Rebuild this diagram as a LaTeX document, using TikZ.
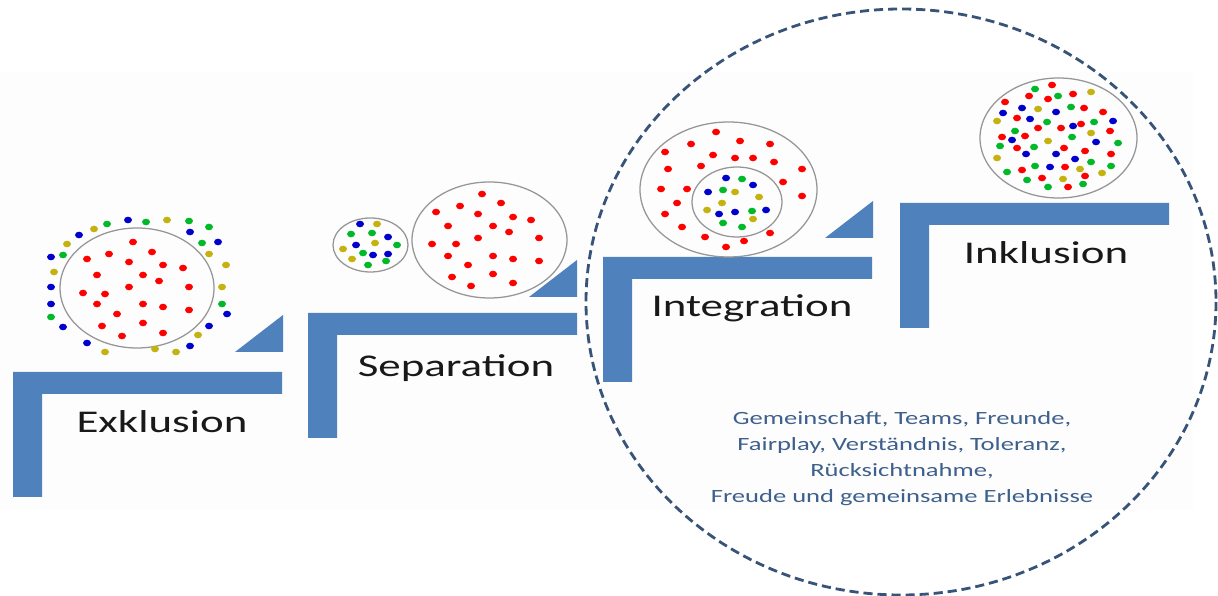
\documentclass[tikz,border=0pt]{standalone}
\usepackage{fontspec}
\setmainfont{Carlito}
\usepackage{tikz}

\definecolor{stepblue}{RGB}{79,129,189}
\definecolor{dotred}{RGB}{255,0,0}
\definecolor{dotgreen}{RGB}{0,185,40}
\definecolor{dotblue}{RGB}{0,0,205}
\definecolor{dotyellow}{RGB}{195,178,15}
\definecolor{ringgray}{RGB}{150,150,150}
\definecolor{navy}{RGB}{56,83,120}
\definecolor{textblue}{RGB}{62,96,140}

\tikzset{
  stage/.style={font=\fontsize{22.5}{26}\selectfont, text=black!90, xscale=1.42, inner sep=0pt},
  ring/.style={draw=ringgray, line width=0.9pt},
}

\begin{document}
\begin{tikzpicture}[x=0.025cm, y=-0.025cm]
\useasboundingbox (0,0) rectangle (1218,596);

% Pasted picture area
\fill[black!0.6] (0,72) rectangle (1193,510);

% Stairs
\foreach \x/\y in {13/372, 308/313, 603/257, 900/203}{
  \fill[stepblue] (\x,\y) -- ++(269,0) -- ++(0,22) -- ++(-240,0) -- ++(0,103) -- ++(-29,0) -- cycle;
}
\foreach \x/\y in {283/352, 577/297, 873/238}{
  \fill[stepblue] (\x,\y) -- ++(-48,0) -- ++(48,-37) -- cycle;
}

% Stage labels
\node[stage] (excl) at (162,422) {Exklusion};
\node[stage] (sep) at (456,368) {Separation};
\node[stage] (integ) at (752,308) {Integration};
\node[stage] (inkl) at (1046,253) {Inklusion};

% Exklusion: group inside, the others around it
\draw[ring] (137,288) ellipse [x radius=77, y radius=60];
\foreach \x/\y in {133/242,109/254,152/252,87/259,129/262,163/265,183/268,97/275,143/275,159/281,
                   129/287,189/287,83/293,105/294,97/304,143/304,163/307,189/310,117/314,102/326,
                   143/323,122/336,163/333}
  \fill[dotred] (\x,\y) ellipse [x radius=4, y radius=3.3];
\foreach \x/\y in {128/220,190/232,218/242,79/235,51/257,51/287,51/304,227/314,63/327,209/326,87/343,190/346}
  \fill[dotblue] (\x,\y) ellipse [x radius=4, y radius=3.3];
\foreach \x/\y in {107/224,146/222,189/221,209/227,202/243,63/255,222/304,51/317}
  \fill[dotgreen] (\x,\y) ellipse [x radius=4, y radius=3.3];
\foreach \x/\y in {94/229,167/220,67/244,209/254,226/265,54/272,222/287,198/335,105/352,155/349,176/352}
  \fill[dotyellow] (\x,\y) ellipse [x radius=4, y radius=3.3];

% Separation: two groups side by side
\draw[ring] (370.5,245) ellipse [x radius=37.5, y radius=27];
\draw[ring] (489.5,240) ellipse [x radius=77.5, y radius=58];
\foreach \x/\y in {360/224,388/237,356/245,373/255,388/254}
  \fill[dotblue] (\x,\y) ellipse [x radius=4, y radius=3.3];
\foreach \x/\y in {351/234,372/233,397/245,363/253,386/261,368/265}
  \fill[dotgreen] (\x,\y) ellipse [x radius=4, y radius=3.3];
\foreach \x/\y in {377/224,375/243,343/249,352/259}
  \fill[dotyellow] (\x,\y) ellipse [x radius=4, y radius=3.3];
\foreach \x/\y in {482/194,460/206,501/203,436/212,478/214,513/217,531/220,448/226,493/226,509/232,
                   478/238,539/238,432/244,456/244,448/256,493/256,513/259,539/261,468/265,493/274,
                   452/277,513/283,471/286}
  \fill[dotred] (\x,\y) ellipse [x radius=4, y radius=3.3];

% Integration: small group within the big one
\draw[ring] (728.5,189.5) ellipse [x radius=88.5, y radius=67.5];
\draw[ring] (737,202) ellipse [x radius=45, y radius=35];
\foreach \x/\y in {716/132,691/144,740/141,770/144,665/152,713/155,735/158,753/158,774/162,668/169,
                   701/166,802/169,783/182,661/189,687/189,677/203,802/196,665/214,682/227,770/233,
                   705/237,744/241,726/247}
  \fill[dotred] (\x,\y) ellipse [x radius=4, y radius=3.3];
\foreach \x/\y in {726/178,753/185,708/192,719/214,735/212,766/210}
  \fill[dotblue] (\x,\y) ellipse [x radius=4, y radius=3.3];
\foreach \x/\y in {742/179,723/190,752/211,723/223,742/227}
  \fill[dotgreen] (\x,\y) ellipse [x radius=4, y radius=3.3];
\foreach \x/\y in {735/192,759/197,722/203,707/210,753/219}
  \fill[dotyellow] (\x,\y) ellipse [x radius=4, y radius=3.3];

% Inklusion: everyone mixed
\draw[ring] (1058.5,138) ellipse [x radius=78.5, y radius=60];
\foreach \x/\y in {1052/85,1029/96,1048/99,1073/94,1005/102,1084/108,1103/112,1017/118,1081/124,1038/128,
                   1061/128,1110/131,1002/137,1025/136,1017/148,1064/148,1085/151,1111/154,1065/167,1022/170,
                   1085/176,1042/178,1068/187}
  \fill[dotred] (\x,\y) ellipse [x radius=4, y radius=3.3];
\foreach \x/\y in {1022/108,1003/113,1056/112,1030/119,1073/126,1113/121,1012/140,1096/142,1026/154,1056/154,
                   1075/159,1050/167}
  \fill[dotblue] (\x,\y) ellipse [x radius=4, y radius=3.3];
\foreach \x/\y in {1035/89,1058/96,1071/107,1047/122,1094/122,1015/131,1072/137,1118/143,1000/146,1034/147,
                   1091/162,1035/166,1111/166,1007/172,1027/180,1083/184,1048/187}
  \fill[dotgreen] (\x,\y) ellipse [x radius=4, y radius=3.3];
\foreach \x/\y in {1091/92,1038/109,997/121,1091/133,1048/141,997/158,1080/169,1102/173,1063/179}
  \fill[dotyellow] (\x,\y) ellipse [x radius=4, y radius=3.3];

% Values of the last two stages
\node[font=\fontsize{13.3}{18.5}\selectfont, text=textblue, align=center, xscale=1.42] (values) at (902,459)
  {Gemeinschaft, Teams, Freunde,\\Fairplay, Verständnis, Toleranz,\\Rücksichtnahme,\\Freude und gemeinsame Erlebnisse};

% Dashed frame round integration and inclusion
\draw[navy, line width=2pt, dash pattern=on 6.5pt off 3.5pt] (901,302) ellipse [x radius=315, y radius=293];

\end{tikzpicture}
\end{document}
